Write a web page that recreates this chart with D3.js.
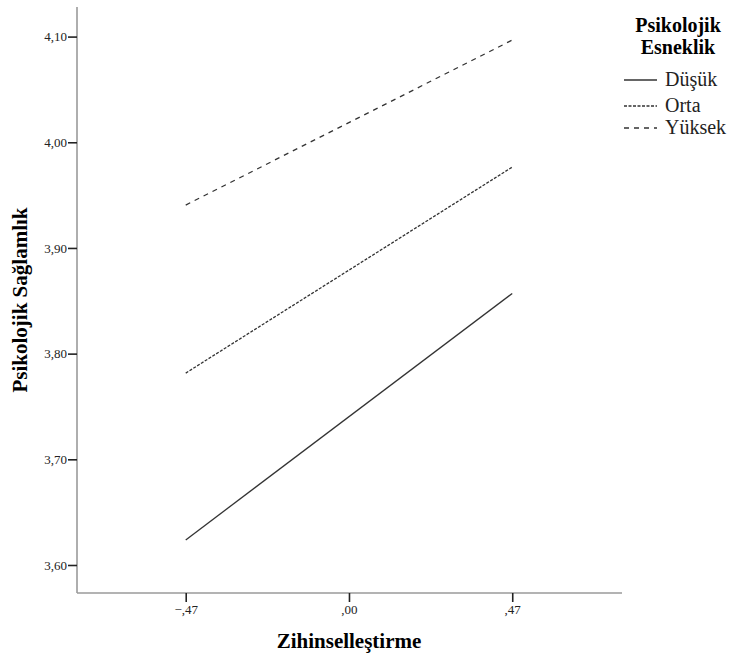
<!DOCTYPE html>
<html>
<head>
<meta charset="utf-8">
<script src="https://cdn.jsdelivr.net/npm/d3@7"></script>
<style>
  body { margin: 0; background: #fff; }
  text { font-family: "Liberation Serif", "Times New Roman", serif; }
</style>
</head>
<body>
<svg id="chart"></svg>
<script>
// x values (Zihinselleştirme) and one series per level of Psikolojik Esneklik
var xValues = [-0.47, 0.47];
var seriesNames = ["Düşük", "Orta", "Yüksek"];
var dusuk = [3.6237, 3.857];
var orta = [3.7816, 3.9765];
var yuksek = [3.9406, 4.0967];
var yTicks = [3.60, 3.70, 3.80, 3.90, 4.00, 4.10];
var xTicks = [-0.47, 0.00, 0.47];

var W = 733, H = 655;
var svg = d3.select("#chart").attr("width", W).attr("height", H);

var plotLeft = 77, plotRight = 622, plotTop = 7, plotBottom = 593;

var x = d3.scaleLinear().domain([-0.783, 0.786]).range([plotLeft, plotRight]);
var y = d3.scaleLinear().domain([3.5735, 4.128]).range([plotBottom, plotTop]);

var comma = function (v) {
    // SPSS style: 4,10 and -,47
    var s = d3.format(".2f")(v).replace(".", ",");
    if (Math.abs(v) < 1) s = s.replace("0,", ",");
    return s;
};

// axis lines (grey) drawn separately from the dark ticks
svg.append("line")
    .attr("x1", plotLeft).attr("x2", plotLeft).attr("y1", plotTop).attr("y2", plotBottom)
    .attr("stroke", "#9a9a9a").attr("stroke-width", 1.6);
svg.append("line")
    .attr("x1", plotLeft).attr("x2", plotRight).attr("y1", plotBottom).attr("y2", plotBottom)
    .attr("stroke", "#9a9a9a").attr("stroke-width", 1.6);

var yAxis = svg.append("g")
    .attr("transform", "translate(" + plotLeft + ",0)")
    .call(d3.axisLeft(y).tickValues(yTicks).tickFormat(comma).tickSize(9).tickPadding(1));
yAxis.select(".domain").remove();
yAxis.selectAll(".tick line").attr("stroke", "#222").attr("stroke-width", 1.6);
yAxis.selectAll(".tick text")
    .style("font-family", "Liberation Serif").style("font-size", "13px").attr("fill", "#222");

var xAxis = svg.append("g")
    .attr("transform", "translate(0," + plotBottom + ")")
    .call(d3.axisBottom(x).tickValues(xTicks).tickFormat(comma).tickSize(9).tickPadding(3));
xAxis.select(".domain").remove();
xAxis.selectAll(".tick line").attr("stroke", "#222").attr("stroke-width", 1.6);
xAxis.selectAll(".tick text")
    .style("font-family", "Liberation Serif").style("font-size", "13px").attr("fill", "#222");

// series lines
var styles = {
    "Düşük": null,
    "Orta": "3,1.5",
    "Yüksek": "5,5"
};
var allSeries = [dusuk, orta, yuksek];
var line = d3.line()
    .x(function (d, i) { return x(xValues[i]); })
    .y(function (d) { return y(d); });

allSeries.forEach(function (vals, k) {
    svg.append("path")
        .datum(vals)
        .attr("d", line)
        .attr("fill", "none")
        .attr("stroke", "#333")
        .attr("stroke-width", 1.3)
        .attr("stroke-dasharray", styles[seriesNames[k]]);
});

// axis titles
svg.append("text")
    .attr("x", (plotLeft + plotRight) / 2 - 0.5).attr("y", 648)
    .attr("text-anchor", "middle")
    .style("font-size", "21px").style("font-weight", "bold")
    .text("Zihinselleştirme");

svg.append("text")
    .attr("transform", "translate(27,300) rotate(-90)")
    .attr("text-anchor", "middle")
    .style("font-size", "21px").style("font-weight", "bold")
    .text("Psikolojik Sağlamlık");

// legend
var lg = svg.append("g");
lg.append("text").attr("x", 678).attr("y", 32).attr("text-anchor", "middle")
    .style("font-size", "20px").style("font-weight", "bold").text("Psikolojik");
lg.append("text").attr("x", 678).attr("y", 54).attr("text-anchor", "middle")
    .style("font-size", "20px").style("font-weight", "bold").text("Esneklik");

var legendY = [80, 106, 128];
seriesNames.forEach(function (name, i) {
    lg.append("line")
        .attr("x1", 624).attr("x2", 657)
        .attr("y1", legendY[i]).attr("y2", legendY[i])
        .attr("stroke", "#333").attr("stroke-width", 1.3)
        .attr("stroke-dasharray", styles[name]);
    lg.append("text")
        .attr("x", 665).attr("y", legendY[i] + 6)
        .style("font-size", "20px").attr("fill", "#222")
        .text(name);
});
</script>
</body>
</html>
